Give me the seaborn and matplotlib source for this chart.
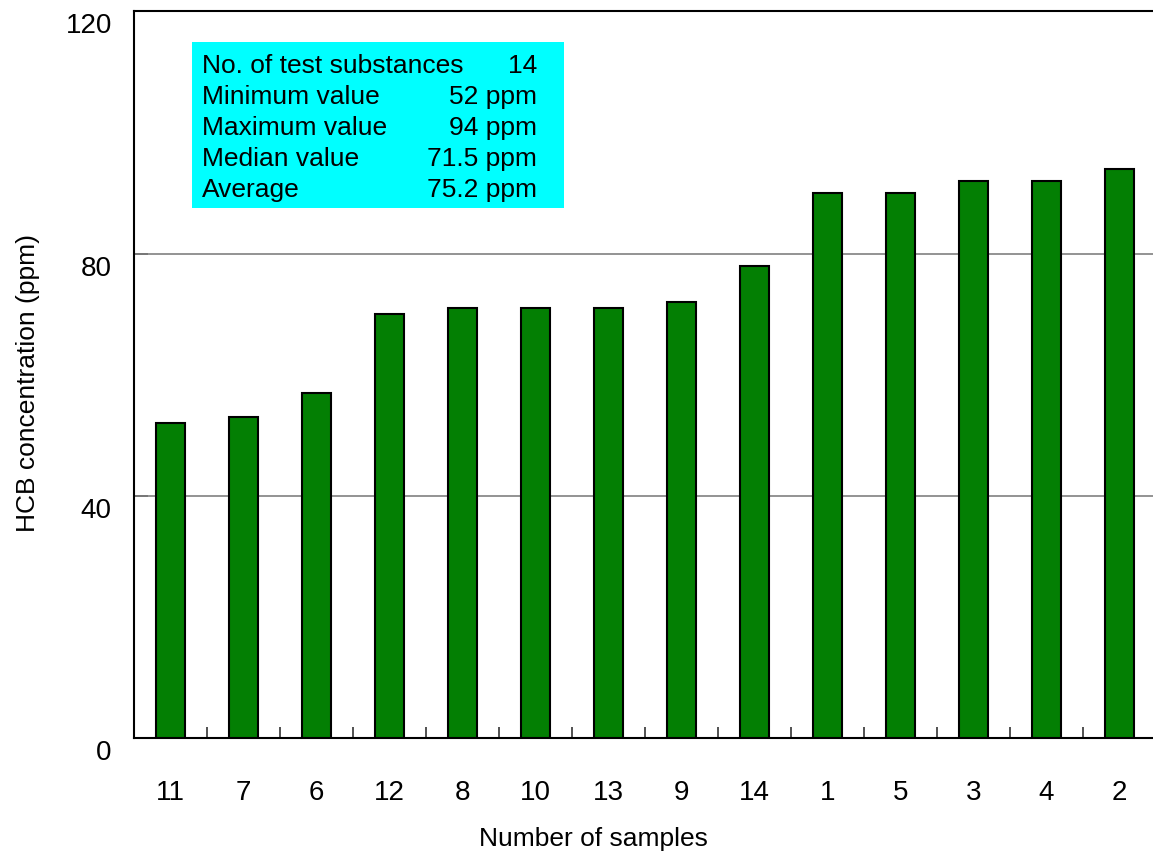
import matplotlib
matplotlib.use("Agg")
import matplotlib.pyplot as plt
import matplotlib.transforms as mtransforms
from matplotlib.patches import Rectangle
from matplotlib.ticker import FixedLocator
import seaborn as sns
import pandas as pd

# ---- data ----
samples = ["11", "7", "6", "12", "8", "10", "13", "9", "14", "1", "5", "3", "4", "2"]
hcb_ppm = [52, 53, 57, 70, 71, 71, 71, 72, 78, 90, 90, 92, 92, 94]
y_ticks = [0, 40, 80, 120]
stat_names = ["No. of test substances", "Minimum value", "Maximum value", "Median value", "Average"]
stat_values = ["14", "52 ppm", "94 ppm", "71.5 ppm", "75.2 ppm"]
x_title = "Number of samples"
y_title = "HCB concentration (ppm)"

sns.set_theme(style="white")
plt.rcParams["font.family"] = ["Liberation Sans", "DejaVu Sans"]
plt.rcParams["text.color"] = "black"
plt.rcParams["axes.labelcolor"] = "black"
plt.rcParams["xtick.color"] = "black"
plt.rcParams["ytick.color"] = "black"

W, H = 1153, 859
fig = plt.figure(figsize=(W / 100, H / 100), dpi=100)
ax = fig.add_axes([134 / W, 1 - 738 / H, (1156 - 134) / W, (738 - 11.3) / H])

df = pd.DataFrame({"sample": samples, "hcb": hcb_ppm})
sns.barplot(data=df, x="sample", y="hcb", order=samples, color="#037F03",
            saturation=1, width=0.4, edgecolor="black", linewidth=1.5, ax=ax, zorder=3)

ax.set_ylim(0, 120)
ax.set_xlim(-0.5, len(samples) - 0.5)
ax.set_yticks(y_ticks)
ax.set_yticklabels([str(v) for v in y_ticks], fontsize=20)
ax.set_xticks(range(len(samples)))
ax.set_xticklabels(samples, fontsize=20)
ax.xaxis.set_minor_locator(FixedLocator([i + 0.5 for i in range(len(samples) - 1)]))

ax.tick_params(axis="x", which="major", length=0, pad=30, labelcolor="black")
ax.tick_params(axis="x", which="minor", direction="in", length=8, width=1.2, color="#333333", bottom=True)
ax.tick_params(axis="y", which="major", direction="in", length=10, width=1.2, color="#333333",
               pad=16, left=True, labelcolor="black")

# y tick labels sit slightly below their tick in the reference
offset = mtransforms.ScaledTranslation(0, -12 / 100, fig.dpi_scale_trans)
for lbl in ax.get_yticklabels():
    lbl.set_transform(lbl.get_transform() + offset)

for v in y_ticks[1:-1]:
    ax.axhline(v, color="#808080", lw=1.2, zorder=1)

for s in ["left", "top", "bottom"]:
    ax.spines[s].set_visible(True)
    ax.spines[s].set_color("black")
    ax.spines[s].set_linewidth(1.5)
ax.spines["right"].set_visible(False)

ax.set_xlabel(x_title, fontsize=19, color="black")
ax.set_ylabel(y_title, fontsize=19, color="black")
ax.xaxis.set_label_coords(0.45, -0.122)
ax.yaxis.set_label_coords(-0.092, 0.4885)

# info box
fig.patches.append(Rectangle((192 / W, 1 - 208 / H), 372 / W, 166 / H,
                             transform=fig.transFigure, facecolor="#00FFFF",
                             edgecolor="none", zorder=5))
base0, step = 73.3, 30.85
for i, (n, v) in enumerate(zip(stat_names, stat_values)):
    yb = 1 - (base0 + i * step) / H
    fig.text(202 / W, yb, n, fontsize=19, ha="left", va="baseline", zorder=6, color="black")
    fig.text(537 / W, yb, v, fontsize=19, ha="right", va="baseline", zorder=6, color="black")

fig.savefig("out.png", dpi=100)
